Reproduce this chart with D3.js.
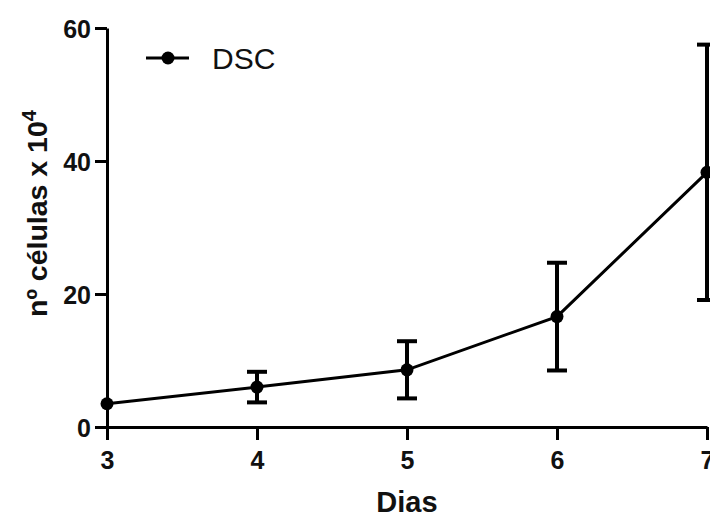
<!DOCTYPE html>
<html>
<head>
<meta charset="utf-8">
<script src="https://cdn.jsdelivr.net/npm/d3@7"></script>
<style>
  body { margin: 0; background: #fff; }
  text { font-family: Arial, "Liberation Sans", sans-serif; }
</style>
</head>
<body>
<div id="chart"></div>
<script>
const days = [3, 4, 5, 6, 7];
const cells = [3.5, 6.0, 8.6, 16.6, 38.3];
const errors = [0, 2.3, 4.3, 8.1, 19.2];
const yTicks = [0, 20, 40, 60];
const seriesName = "DSC";

const W = 710, H = 517;
const margin = {top: 28, right: 3, bottom: 90, left: 107};
const width = W - margin.left - margin.right,
    height = H - margin.top - margin.bottom;

const svg = d3.select("#chart")
    .append("svg")
    .attr("width", W)
    .attr("height", H)
    .append("g")
    .attr("transform", "translate(" + margin.left + "," + margin.top + ")");

const x = d3.scaleLinear().domain([3, 7]).range([0, width]);
const y = d3.scaleLinear().domain([0, 60]).range([height, 0]);

// axes
const xAxis = svg.append("g")
    .attr("transform", "translate(0," + height + ")")
    .call(d3.axisBottom(x).tickValues(days).tickFormat(d3.format("d")).tickSize(13).tickSizeOuter(0));
const yAxis = svg.append("g")
    .call(d3.axisLeft(y).tickValues(yTicks).tickSize(12).tickSizeOuter(0));

[xAxis, yAxis].forEach(a => {
  a.select(".domain").attr("stroke", "#000").attr("stroke-width", 3);
  a.selectAll(".tick line").attr("stroke", "#000").attr("stroke-width", 3);
  a.selectAll(".tick text")
      .attr("fill", "#111")
      .style("font-size", "25px")
      .style("font-weight", "bold");
});
xAxis.selectAll(".tick text").attr("dy", "0.95em").attr("y", 18);
yAxis.selectAll(".tick text").attr("x", -16).attr("dy", "0.36em");

// axis titles
svg.append("text")
    .attr("x", x(5))
    .attr("y", height + 85)
    .attr("text-anchor", "middle")
    .style("font-size", "29px")
    .style("font-weight", "bold")
    .attr("fill", "#111")
    .text("Dias");

const yt = svg.append("text")
    .attr("transform", "translate(-60," + (height / 2 - 14) + ") rotate(-90)")
    .attr("text-anchor", "middle")
    .style("font-size", "28.5px")
    .style("font-weight", "bold")
    .attr("fill", "#111");
yt.append("tspan").text("nº células x 10");
yt.append("tspan").attr("dy", "-0.55em").style("font-size", "20px").text("4");

// error bars
const eb = svg.selectAll(".err")
    .data(days.map((d, i) => ({d, v: cells[i], e: errors[i]})).filter(p => p.e > 0))
    .enter().append("g").attr("class", "err")
    .attr("stroke", "#000").attr("stroke-width", 4);
eb.append("line")
    .attr("x1", p => x(p.d)).attr("x2", p => x(p.d))
    .attr("y1", p => y(p.v - p.e)).attr("y2", p => y(p.v + p.e));
eb.append("line")
    .attr("x1", p => x(p.d) - 10).attr("x2", p => x(p.d) + 10)
    .attr("y1", p => y(p.v + p.e)).attr("y2", p => y(p.v + p.e));
eb.append("line")
    .attr("x1", p => x(p.d) - 10).attr("x2", p => x(p.d) + 10)
    .attr("y1", p => y(p.v - p.e)).attr("y2", p => y(p.v - p.e));

// line
const line = d3.line().x((d, i) => x(days[i])).y(d => y(d));
svg.append("path")
    .datum(cells)
    .attr("fill", "none")
    .attr("stroke", "#000")
    .attr("stroke-width", 3)
    .attr("d", line);

svg.selectAll(".pt")
    .data(cells)
    .enter().append("circle")
    .attr("class", "pt")
    .attr("cx", (d, i) => x(days[i]))
    .attr("cy", d => y(d))
    .attr("r", 6.5)
    .attr("fill", "#000");

// legend
const lg = svg.append("g").attr("transform", "translate(" + (168 - margin.left) + "," + (58 - margin.top) + ")");
lg.append("line").attr("x1", -22).attr("x2", 21).attr("y1", 0).attr("y2", 0)
    .attr("stroke", "#000").attr("stroke-width", 3);
lg.append("circle").attr("r", 6.5).attr("fill", "#000");
lg.append("text")
    .attr("x", 44)
    .attr("y", 0)
    .attr("dy", "0.36em")
    .style("font-size", "30px")
    .attr("fill", "#111")
    .text(seriesName);
</script>
</body>
</html>
